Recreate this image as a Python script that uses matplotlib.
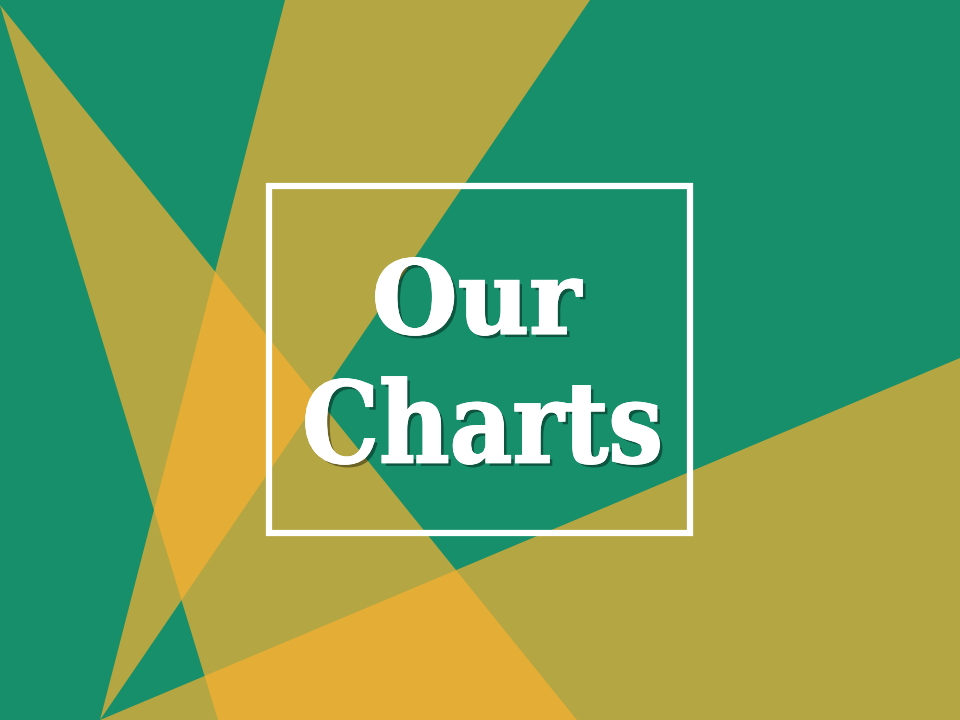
import matplotlib
matplotlib.use("Agg")
import matplotlib.pyplot as plt
import matplotlib.patheffects as pe
from matplotlib.patches import Polygon, Rectangle, PathPatch
from matplotlib.textpath import TextPath
from matplotlib.font_manager import FontProperties
from matplotlib.transforms import Affine2D

# title slide: green ground with three see-through yellow triangles
title_lines = ["Our", "Charts"]

# triangle corners, in pixels of a 960x720 slide (y grows downward)
tri_left_x = [0, 218, 577]
tri_left_y = [5, 720, 720]
tri_top_x = [285, 590, 100]
tri_top_y = [0, 0, 720]
tri_right_x = [100, 960, 960]
tri_right_y = [720, 358, 720]

green = "#168f6a"
yellow = "#f8b031"

fig = plt.figure(figsize=(9.6, 7.2), dpi=100, facecolor=green)
ax = fig.add_axes([0, 0, 1, 1])
ax.set_facecolor(green)
ax.set_xlim(0, 960)
ax.set_ylim(720, 0)
ax.axis("off")

for xs, ys in [(tri_left_x, tri_left_y), (tri_top_x, tri_top_y), (tri_right_x, tri_right_y)]:
    ax.add_patch(Polygon(list(zip(xs, ys)), closed=True, facecolor=yellow,
                         edgecolor="none", alpha=0.7))

# white frame round the title
ax.add_patch(Rectangle((269, 186), 421, 347, fill=False, edgecolor="white", linewidth=4.5))

# title words drawn as paths so they can be fitted into their boxes
font = FontProperties(family="DejaVu Serif", weight="bold")
boxes = [(376, 258, 582, 335), (306, 377, 659, 464)]
shadow = [pe.withSimplePatchShadow(offset=(2.5, -2.5), shadow_rgbFace="black", alpha=0.4),
          pe.Normal()]
for word, (x0, y0, x1, y1) in zip(title_lines, boxes):
    tp = TextPath((0, 0), word, size=100, prop=font)
    ext = tp.get_extents()
    sx = (x1 - x0) / ext.width
    sy = (y1 - y0) / ext.height
    tr = (Affine2D().translate(-ext.x0, -ext.y1).scale(sx, -sy).translate(x0, y0))
    ax.add_patch(PathPatch(tr.transform_path(tp), facecolor="white", edgecolor="white",
                           linewidth=1.2, path_effects=shadow))

fig.savefig("out.png", dpi=100, facecolor=green)
